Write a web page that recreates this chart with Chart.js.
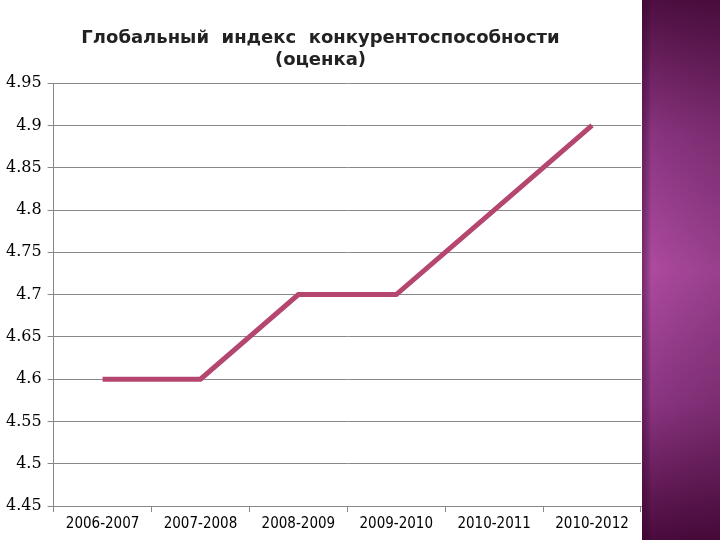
<!DOCTYPE html>
<html><head><meta charset="utf-8">
<script src="https://cdn.jsdelivr.net/npm/chart.js@4"></script>
<style>html,body{margin:0;padding:0;background:#fff}#w{width:720px;height:540px;position:relative}</style>
</head><body><div id="w"><canvas id="c" width="720" height="540"></canvas></div>
<script>
const categories=['2006-2007','2007-2008','2008-2009','2009-2010','2010-2011','2010-2012'];
const values=[4.6,4.6,4.7,4.7,4.8,4.9];
const titleLines=['Глобальный  индекс  конкурентоспособности','(оценка)'];
const strip={id:'strip',beforeDraw(ch){const c=ch.ctx;const g=c.createLinearGradient(0,0,0,540);
g.addColorStop(0,'#4e0e40');g.addColorStop(0.25,'#8a3480');g.addColorStop(0.5,'#ad4a9f');g.addColorStop(0.75,'#8a3480');g.addColorStop(1,'#4a0a3c');
c.save();c.fillStyle=g;c.fillRect(642,0,78,540);
const h=c.createLinearGradient(642,0,720,0);h.addColorStop(0,'rgba(60,0,50,0.45)');h.addColorStop(0.12,'rgba(0,0,0,0)');h.addColorStop(1,'rgba(40,0,30,0.15)');
c.fillStyle=h;c.fillRect(642,0,78,540);c.restore();}};
new Chart(document.getElementById('c'),{type:'line',
data:{labels:categories,datasets:[{data:values,borderColor:'#b5466f',borderWidth:5,pointRadius:0,tension:0}]},
options:{responsive:false,animation:false,
layout:{padding:{left:0,right:79,top:28,bottom:4}},
plugins:{legend:{display:false},tooltip:{enabled:false},
title:{display:true,text:titleLines,color:'#222',font:{family:'DejaVu Sans',size:18,weight:'bold'},padding:{top:0,bottom:12},lineHeight:1.4}},
scales:{y:{min:4.45,max:4.95,ticks:{stepSize:0.05,padding:6,color:'#000',font:{family:'DejaVu Serif',size:16},callback:v=>String(parseFloat(v.toFixed(2)))},
grid:{color:'#888',tickLength:6},border:{color:'#888'}},
x:{offset:true,ticks:{color:'#000',font:{family:'DejaVu Sans Condensed',size:15},maxRotation:0,autoSkip:false},
grid:{display:true,drawOnChartArea:false,color:'#888',tickLength:6,offset:true},border:{color:'#888'}}}},
plugins:[strip]});
</script></body></html>
